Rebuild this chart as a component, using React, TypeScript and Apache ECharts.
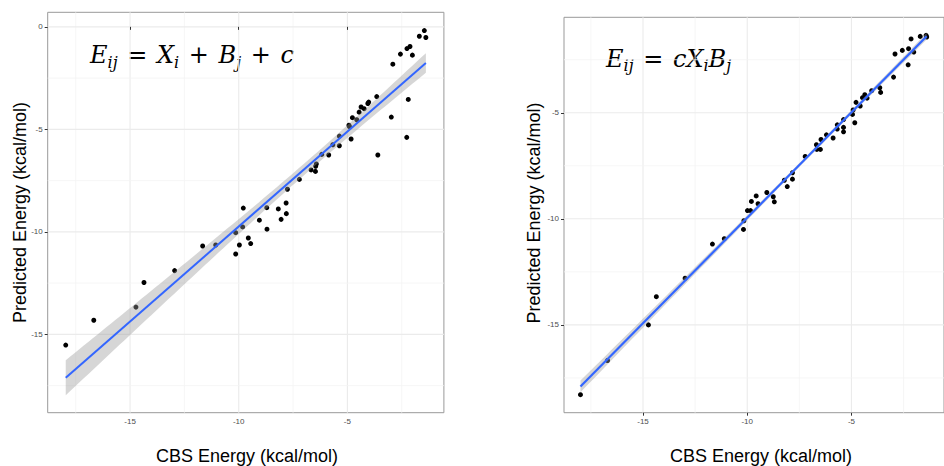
import { useEffect, useRef } from "react";
import * as echarts from "echarts";

// ---- data ----
const leftCbs = [
  -1.46, -1.69, -1.39, -2.12, -2.26, -2.01, -2.56, -2.91, -3.65, -4.02, -4.06, -4.23, -4.37, -4.46,
  -4.57, -4.77, -4.91, -4.93, -4.83, -2.98, -2.2, -2.27, -3.6, -5.37, -5.37, -5.67, -5.86, -6.18,
  -6.43, -6.46, -6.67, -6.47, -7.21, -7.76, -7.82, -7.81, -8.18, -8.05, -8.71, -9.05, -8.7, -9.79,
  -9.82, -10.14, -9.56, -9.97, -9.45, -10.14, -11.66, -11.06, -12.95, -14.36, -14.73, -16.67, -17.96,
];
const leftPred = [
  -0.18, -0.46, -0.52, -0.96, -1.06, -1.38, -1.33, -1.82, -3.4, -3.67, -3.74, -3.99, -3.91, -4.16,
  -4.53, -4.43, -4.86, -4.8, -5.47, -4.4, -3.54, -5.39, -6.25, -5.33, -5.8, -5.75, -6.25, -6.22,
  -6.69, -6.8, -6.98, -7.05, -7.44, -7.92, -8.59, -9.11, -8.88, -9.39, -8.82, -9.43, -9.87, -8.84,
  -9.76, -10.04, -10.3, -10.64, -10.57, -11.08, -10.69, -10.64, -11.89, -12.47, -13.67, -14.31, -15.52,
];
const rightCbs = [
  -18.0, -16.7, -14.74, -14.36, -12.98, -11.67, -11.1, -10.16, -10.18, -9.99, -9.84, -9.8, -9.57,
  -9.48, -9.06, -8.75, -8.7, -8.22, -8.08, -7.83, -7.83, -7.22, -6.68, -6.66, -6.49, -6.46, -6.2,
  -5.88, -5.68, -5.68, -5.38, -5.38, -5.38, -4.95, -4.92, -4.84, -4.78, -4.58, -4.47, -4.36, -4.25,
  -4.03, -3.64, -3.6, -2.98, -2.91, -2.56, -2.26, -2.14, -2.28, -2.01, -1.7, -1.42, -1.39,
];
const rightPred = [
  -18.29, -16.68, -15.0, -13.67, -12.8, -11.19, -10.94, -10.09, -10.5, -9.61, -9.61, -9.18, -8.92,
  -9.29, -8.76, -8.96, -9.2, -8.18, -8.48, -7.83, -8.13, -7.06, -6.51, -6.73, -6.73, -6.26, -6.04,
  -6.19, -5.57, -5.77, -5.32, -5.69, -5.9, -5.08, -4.87, -5.47, -4.51, -4.68, -4.29, -4.15, -4.31,
  -3.96, -3.82, -4.04, -3.32, -2.23, -2.06, -1.98, -1.52, -2.74, -2.14, -1.4, -1.35, -1.43,
];

const xTicks = [-15, -10, -5];
const leftYTicks = [0, -5, -10, -15];
const rightYTicks = [-5, -10, -15];
const xMajor = [-15, -10, -5];
const xMinor = [-17.5, -12.5, -7.5, -2.5];
const leftYMajor = [0, -5, -10, -15];
const rightYMajor = [-5, -10, -15];
const yMinor = [-2.5, -7.5, -12.5, -17.5];

const T975 = 2.005;

function fit(xs: number[], ys: number[]) {
  const n = xs.length;
  const mx = xs.reduce((a, b) => a + b, 0) / n;
  const my = ys.reduce((a, b) => a + b, 0) / n;
  let sxx = 0, sxy = 0;
  for (let i = 0; i < n; i++) {
    sxx += (xs[i] - mx) ** 2;
    sxy += (xs[i] - mx) * (ys[i] - my);
  }
  const b = sxy / sxx;
  const a = my - b * mx;
  let sse = 0;
  for (let i = 0; i < n; i++) sse += (ys[i] - (a + b * xs[i])) ** 2;
  const s = Math.sqrt(sse / (n - 2));
  const x0 = Math.min(...xs), x1 = Math.max(...xs);
  const band: number[][] = [];
  const N = 80;
  for (let i = 0; i <= N; i++) {
    const x = x0 + ((x1 - x0) * i) / N;
    const yh = a + b * x;
    const se = s * Math.sqrt(1 / n + (x - mx) ** 2 / sxx);
    band.push([x, yh - T975 * se, yh + T975 * se]);
  }
  return { line: [[x0, a + b * x0], [x1, a + b * x1]], band };
}

const SANS = "'Liberation Sans', Arial, Helvetica, sans-serif";
const SERIF = "'DejaVu Serif', 'Liberation Serif', serif";

function gridSeries(gi: number, xMaj: number[], xMin: number[], yMaj: number[], yMin: number[]) {
  const data: number[][] = [];
  xMaj.forEach((v) => data.push([v, 0, 1]));
  xMin.forEach((v) => data.push([v, 0, 0]));
  yMaj.forEach((v) => data.push([v, 1, 1]));
  yMin.forEach((v) => data.push([v, 1, 0]));
  return {
    type: "custom",
    xAxisIndex: gi,
    yAxisIndex: gi,
    silent: true,
    z: 0,
    data,
    encode: { x: -1, y: -1 },
    renderItem: (params: any, api: any) => {
      const cs = params.coordSys;
      const v = api.value(0);
      const dir = api.value(1);
      const major = api.value(2) === 1;
      const style = { stroke: major ? "#ebebeb" : "#f4f4f4", lineWidth: major ? 1.1 : 0.8 };
      if (dir === 0) {
        const p = api.coord([v, -10]);
        if (p[0] < cs.x || p[0] > cs.x + cs.width) return null;
        return { type: "line", shape: { x1: p[0], y1: cs.y, x2: p[0], y2: cs.y + cs.height }, style };
      }
      const p = api.coord([-10, v]);
      if (p[1] < cs.y || p[1] > cs.y + cs.height) return null;
      return { type: "line", shape: { x1: cs.x, y1: p[1], x2: cs.x + cs.width, y2: p[1] }, style };
    },
  };
}

function bandSeries(gi: number, band: number[][]) {
  return {
    type: "custom",
    xAxisIndex: gi,
    yAxisIndex: gi,
    silent: true,
    z: 3,
    data: [[-10, -10]],
    renderItem: (_params: any, api: any) => {
      const upper = band.map((p) => api.coord([p[0], p[2]]));
      const lower = band.map((p) => api.coord([p[0], p[1]])).reverse();
      return {
        type: "polygon",
        shape: { points: upper.concat(lower) },
        style: { fill: "rgba(153,153,153,0.4)" },
      };
    },
  };
}

function xAxisCfg(gi: number, min: number, max: number) {
  return {
    gridIndex: gi,
    type: "value",
    min,
    max,
    axisLine: { show: false },
    splitLine: { show: false },
    axisTick: { show: true, customValues: xTicks, length: 3, lineStyle: { color: "#333", width: 1 } },
    axisLabel: { customValues: xTicks, fontSize: 8, color: "#4d4d4d", margin: 5, fontFamily: SANS },
  };
}
function yAxisCfg(gi: number, min: number, max: number, ticks: number[]) {
  return {
    gridIndex: gi,
    type: "value",
    min,
    max,
    axisLine: { show: false },
    splitLine: { show: false },
    axisTick: { show: true, customValues: ticks, length: 3, lineStyle: { color: "#333", width: 1 } },
    axisLabel: { customValues: ticks, fontSize: 8, color: "#4d4d4d", margin: 5, fontFamily: SANS },
  };
}

const eqRich = {
  m: { fontFamily: SERIF, fontStyle: "italic", fontSize: 24, lineHeight: 30, fill: "#000" },
  s: { fontFamily: SERIF, fontStyle: "italic", fontSize: 16, lineHeight: 14, verticalAlign: "bottom", fill: "#000" },
  o: { fontFamily: SERIF, fontSize: 24, lineHeight: 30, fill: "#000", padding: [0, 2, 0, 2] },
};

export default function App() {
  const ref = useRef<HTMLDivElement>(null);
  useEffect(() => {
    if (!ref.current) return;
    const chart = echarts.init(ref.current, null, { renderer: "svg" });
    const L = fit(leftCbs, leftPred);
    const R = fit(rightCbs, rightPred);
    const pts = (xs: number[], ys: number[]) => xs.map((x, i) => [x, ys[i]]);
    chart.setOption({
      animation: false,
      backgroundColor: "#ffffff",
      grid: [
        { left: 47.7, top: 12.3, width: 396.2, height: 400.4, show: true, borderColor: "#999", borderWidth: 1, backgroundColor: "transparent" },
        { left: 564, top: 17.3, width: 390.7, height: 395.4, show: true, borderColor: "#999", borderWidth: 1, backgroundColor: "transparent" },
      ],
      xAxis: [xAxisCfg(0, -18.79, -0.56), xAxisCfg(1, -18.79, -0.56)],
      yAxis: [yAxisCfg(0, -18.82, 0.71, leftYTicks), yAxisCfg(1, -19.14, -0.5, rightYTicks)],
      series: [
        gridSeries(0, xMajor, xMinor, leftYMajor, yMinor),
        gridSeries(1, xMajor, xMinor, rightYMajor, yMinor),
        { type: "scatter", xAxisIndex: 0, yAxisIndex: 0, z: 2, symbolSize: 5, itemStyle: { color: "#000", opacity: 1 }, silent: true, data: pts(leftCbs, leftPred) },
        { type: "scatter", xAxisIndex: 1, yAxisIndex: 1, z: 2, symbolSize: 5, itemStyle: { color: "#000", opacity: 1 }, silent: true, data: pts(rightCbs, rightPred) },
        bandSeries(0, L.band),
        bandSeries(1, R.band),
        { type: "line", xAxisIndex: 0, yAxisIndex: 0, z: 4, showSymbol: false, symbol: "none", silent: true, lineStyle: { color: "#3366FF", width: 2 }, data: L.line },
        { type: "line", xAxisIndex: 1, yAxisIndex: 1, z: 4, showSymbol: false, symbol: "none", silent: true, lineStyle: { color: "#3366FF", width: 2.2 }, data: R.line },
      ],
      graphic: [
        { type: "text", x: 90, y: 55, silent: true, style: { text: "{m|E}{s|ij}{o| = }{m|X}{s|i}{o| + }{m|B}{s|j}{o| + }{m|c}", rich: eqRich, verticalAlign: "middle" } },
        { type: "text", x: 606, y: 58.5, silent: true, style: { text: "{m|E}{s|ij}{o| = }{m|cX}{s|i}{m|B}{s|j}", rich: eqRich, verticalAlign: "middle" } },
        { type: "text", x: 19.5, y: 212.5, rotation: Math.PI / 2, silent: true, style: { text: "Predicted Energy (kcal/mol)", fontFamily: SANS, fontSize: 18, fill: "#000", align: "center", verticalAlign: "middle" } },
        { type: "text", x: 533.5, y: 213, rotation: Math.PI / 2, silent: true, style: { text: "Predicted Energy (kcal/mol)", fontFamily: SANS, fontSize: 18, fill: "#000", align: "center", verticalAlign: "middle" } },
        { type: "text", x: 247, y: 456, silent: true, style: { text: "CBS Energy (kcal/mol)", fontFamily: SANS, fontSize: 18, fill: "#000", align: "center", verticalAlign: "middle" } },
        { type: "text", x: 761, y: 456, silent: true, style: { text: "CBS Energy (kcal/mol)", fontFamily: SANS, fontSize: 18, fill: "#000", align: "center", verticalAlign: "middle" } },
      ],
    });
    return () => chart.dispose();
  }, []);
  return <div ref={ref} style={{ position: "absolute", left: 0, top: 0, width: 944, height: 466, overflow: "hidden" }} />;
}
